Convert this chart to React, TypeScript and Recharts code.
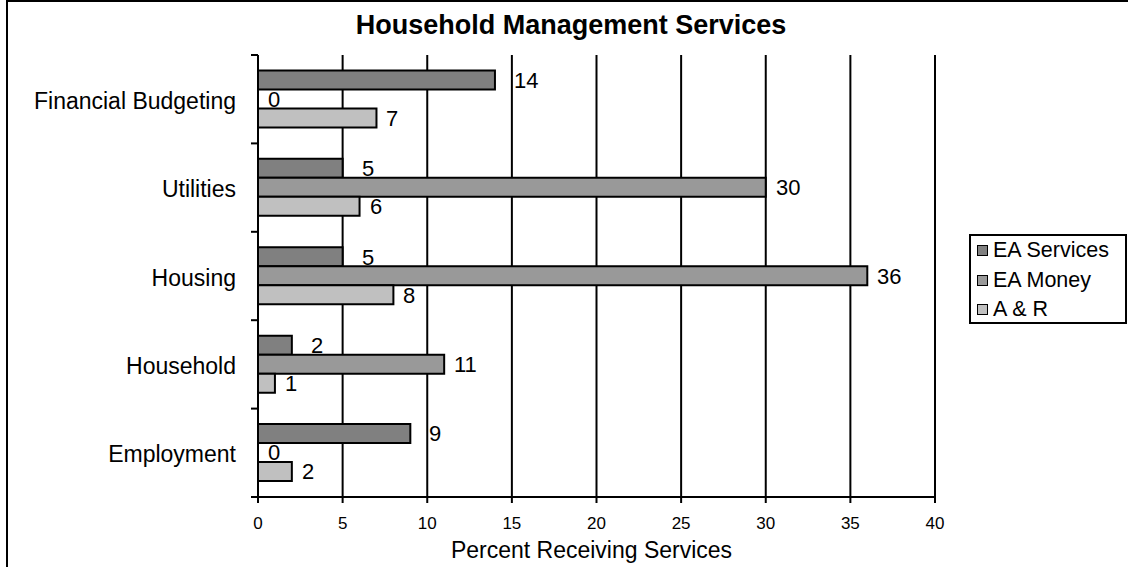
import React from 'react';
import { BarChart, Bar, XAxis, YAxis, CartesianGrid, Legend, LabelList, Cell } from 'recharts';

const categories = ['Financial Budgeting', 'Utilities', 'Housing', 'Household', 'Employment'];
const eaServices = [14, 5, 5, 2, 9];
const eaMoney = [0, 30, 36, 11, 0];
const aAndR = [7, 6, 8, 1, 2];
const xTicks = [0, 5, 10, 15, 20, 25, 30, 35, 40];

const seriesNames = ['EA Services', 'EA Money', 'A & R'];
const seriesColors = ['#808080', '#999999', '#c0c0c0'];

const FONT = '"Liberation Sans", Arial, sans-serif';

const chartData = categories.map((name, i) => ({
  name,
  eaServices: eaServices[i],
  eaMoney: eaMoney[i],
  aAndR: aAndR[i],
}));

// category tick: label at band centre, small tick marks at band edges (like Excel)
const CategoryTick = (props: any) => {
  const { x, y, payload, index, visibleTicksCount, height } = props;
  const axisX = x + 22;
  const half = payload && payload.offset ? payload.offset : height / visibleTicksCount / 2;
  return (
    <g>
      <text x={x} y={y} dy="0.42em" textAnchor="end" fontSize={23} fontFamily={FONT} fill="#000">
        {payload.value}
      </text>
      <line x1={axisX - 7} x2={axisX} y1={y - half} y2={y - half} stroke="#000" strokeWidth={2} />
      {index === visibleTicksCount - 1 && (
        <line x1={axisX - 7} x2={axisX} y1={y + half} y2={y + half} stroke="#000" strokeWidth={2} />
      )}
    </g>
  );
};

const makeLabel = (offset: number) => (props: any) => {
  const { x, y, width, height, value } = props;
  return (
    <text
      x={x + Math.round(width || 0) + offset}
      y={y + height / 2}
      dy="0.36em"
      fontSize={22}
      fontFamily={FONT}
      fill="#000"
    >
      {value}
    </text>
  );
};

const LegendBox = () => (
  <div
    style={{
      border: '2px solid #000',
      boxSizing: 'border-box',
      width: 158,
      height: 90,
      padding: '0 0 0 6px',
      background: '#fff',
      fontFamily: FONT,
      fontSize: 21.5,
      color: '#000',
    }}
  >
    {seriesNames.map((name, i) => (
      <div key={name} style={{ display: 'flex', alignItems: 'center', height: 29.5 }}>
        <span
          style={{
            display: 'inline-block',
            width: 9,
            height: 9,
            border: '1.5px solid #000',
            background: seriesColors[i],
            marginRight: 5,
          }}
        />
        <span>{name}</span>
      </div>
    ))}
  </div>
);

export default function App() {
  return (
    <div style={{ position: 'fixed', left: 0, top: 0, width: 1128, height: 567, overflow: 'hidden', background: '#fff' }}>
      <div
        style={{
          position: 'absolute',
          left: 6,
          top: 0,
          width: 1200,
          height: 700,
          border: '2px solid #000',
        }}
      />
      <div
        style={{
          position: 'absolute',
          left: 0,
          top: 10,
          width: 1142,
          textAlign: 'center',
          fontFamily: FONT,
          fontWeight: 'bold',
          fontSize: 27,
          color: '#000',
        }}
      >
        Household Management Services
      </div>
      <div style={{ position: 'absolute', left: 0, top: 0 }}>
        <BarChart
          width={1128}
          height={567}
          data={chartData}
          layout="vertical"
          margin={{ top: 55, right: 193, bottom: 0, left: 0 }}
          barGap={0}
          barCategoryGap="17.5%"
        >
          <CartesianGrid horizontal={false} vertical={true} stroke="#000" strokeWidth={2} />
          <Bar dataKey="eaServices" name="EA Services" fill={seriesColors[0]} stroke="#000" strokeWidth={2} isAnimationActive={false}>
            <LabelList dataKey="eaServices" content={makeLabel(19)} />
          </Bar>
          <Bar dataKey="eaMoney" name="EA Money" fill={seriesColors[1]} stroke="#000" strokeWidth={2} minPointSize={0.01} isAnimationActive={false}>
            {eaMoney.map((v, i) => (
              <Cell key={`money-${i}`} stroke={v > 0 ? '#000' : 'none'} fill={v > 0 ? seriesColors[1] : 'none'} />
            ))}
            <LabelList dataKey="eaMoney" content={makeLabel(10)} />
          </Bar>
          <Bar dataKey="aAndR" name="A & R" fill={seriesColors[2]} stroke="#000" strokeWidth={2} isAnimationActive={false}>
            <LabelList dataKey="aAndR" content={makeLabel(10)} />
          </Bar>
          <XAxis
            type="number"
            domain={[0, 40]}
            ticks={xTicks}
            interval={0}
            height={70}
            tickSize={6}
            tickMargin={14}
            stroke="#000"
            strokeWidth={2}
            tick={{ fontSize: 17, fontFamily: FONT, fill: '#000' }}
            label={{
              value: 'Percent Receiving Services',
              position: 'insideBottom',
              offset: 9,
              dx: -5,
              fontSize: 23,
              fontFamily: FONT,
              fill: '#000',
            }}
          />
          <XAxis
            xAxisId="top"
            orientation="top"
            type="number"
            domain={[0, 1]}
            height={0}
            tick={false}
            tickLine={false}
            axisLine={{ stroke: '#808080', strokeWidth: 2 }}
          />
          <YAxis
            type="category"
            dataKey="name"
            width={258}
            tickSize={0}
            tickMargin={22}
            interval={0}
            axisLine={{ stroke: '#000', strokeWidth: 2 }}
            tick={<CategoryTick />}
          />
          <YAxis
            yAxisId="right"
            orientation="right"
            type="number"
            domain={[0, 1]}
            width={0}
            tick={false}
            tickLine={false}
            axisLine={{ stroke: '#808080', strokeWidth: 2 }}
          />
          <Legend
            layout="vertical"
            align="center"
            verticalAlign="middle"
            content={<LegendBox />}
            wrapperStyle={{ left: 969, top: 234, width: 158, height: 90 }}
          />
        </BarChart>
      </div>
    </div>
  );
}
